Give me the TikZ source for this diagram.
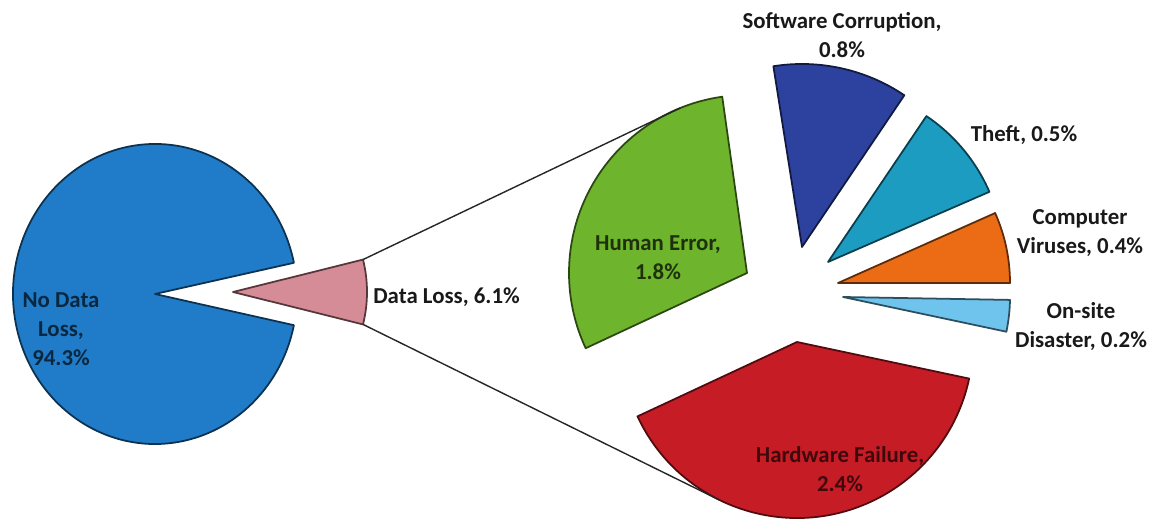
\documentclass[tikz,border=0pt]{standalone}
\usepackage{fontspec}
\setmainfont{Carlito}
\definecolor{noloss}{RGB}{32,124,200}
\definecolor{lossred}{RGB}{214,140,150}
\definecolor{human}{RGB}{110,180,45}
\definecolor{software}{RGB}{44,66,158}
\definecolor{theft}{RGB}{28,156,192}
\definecolor{virus}{RGB}{236,108,22}
\definecolor{disaster}{RGB}{110,196,236}
\definecolor{hardware}{RGB}{198,28,38}

\begin{document}
\begin{tikzpicture}[x=0.02cm, y=0.02cm,
		Slice/.style={fill=#1, draw=#1!40!black, line width=1pt, line join=round},
		Label/.style={font=\bfseries\fontsize{13}{16.5}\selectfont, align=center, text=black!90, inner sep=0pt},
		Inside/.style={Label, text opacity=.85},
		Link/.style={draw=black!85, line width=.8pt}
			]
	\useasboundingbox (0,0) rectangle (1156,527);

	\coordinate (noloss) at (155,233);
	\coordinate (loss) at (233,235);
	\coordinate (human) at (747,254);
	\coordinate (software) at (802,280);
	\coordinate (theft) at (828,265);
	\coordinate (virus) at (838,244);
	\coordinate (disaster) at (843,230);
	\coordinate (hardware) at (797,185);

	\draw[Slice=noloss] (noloss) -- +(12:142 and 150) arc[start angle=12, end angle=348, x radius=142, y radius=150] -- cycle;
	\draw[Slice=lossred] (loss) -- +(-14:134) arc[start angle=-14, end angle=14, radius=134] -- cycle;

	\draw[Slice=human] (human) -- +(98:178) arc[start angle=98, end angle=205, radius=178] -- cycle;
	\draw[Slice=software] (software) -- +(56:183) arc[start angle=56, end angle=99, radius=183] -- cycle;
	\draw[Slice=theft] (theft) -- +(23.5:176) arc[start angle=23.5, end angle=56, radius=176] -- cycle;
	\draw[Slice=virus] (virus) -- +(0:172) arc[start angle=0, end angle=24, radius=172] -- cycle;
	\draw[Slice=disaster] (disaster) -- +(-12:167) arc[start angle=-12, end angle=-1, radius=167] -- cycle;
	\draw[Slice=hardware] (hardware) -- +(205:176) arc[start angle=205, end angle=348, radius=176] -- cycle;

	\path (loss) +(14:134) coordinate (loss top) +(-14:134) coordinate (loss bottom);
	\path (human) +(112:178) coordinate (human top);
	\path (hardware) +(244:176) coordinate (hardware bottom);
	\draw[Link] (loss top) -- (human top);
	\draw[Link] (loss bottom) -- (hardware bottom);

	\node[Inside, text=noloss!20!black] (noloss label) at (61,198) {No Data\\Loss,\\94.3\%};
	\node[Label, anchor=west] (loss label) at (373,230) {Data Loss, 6.1\%};
	\node[Inside, text=human!15!black] (human label) at (658,269) {Human Error,\\1.8\%};
	\node[Label] (software label) at (842,491.5) {Software Corruption,\\0.8\%};
	\node[Label] (theft label) at (1024,392) {Theft, 0.5\%};
	\node[Label] (virus label) at (1080,294) {Computer\\Viruses, 0.4\%};
	\node[Label] (disaster label) at (1081,200) {On-site\\Disaster, 0.2\%};
	\node[Inside, text=hardware!20!black] (hardware label) at (840,58) {Hardware Failure,\\2.4\%};
\end{tikzpicture}
\end{document}
